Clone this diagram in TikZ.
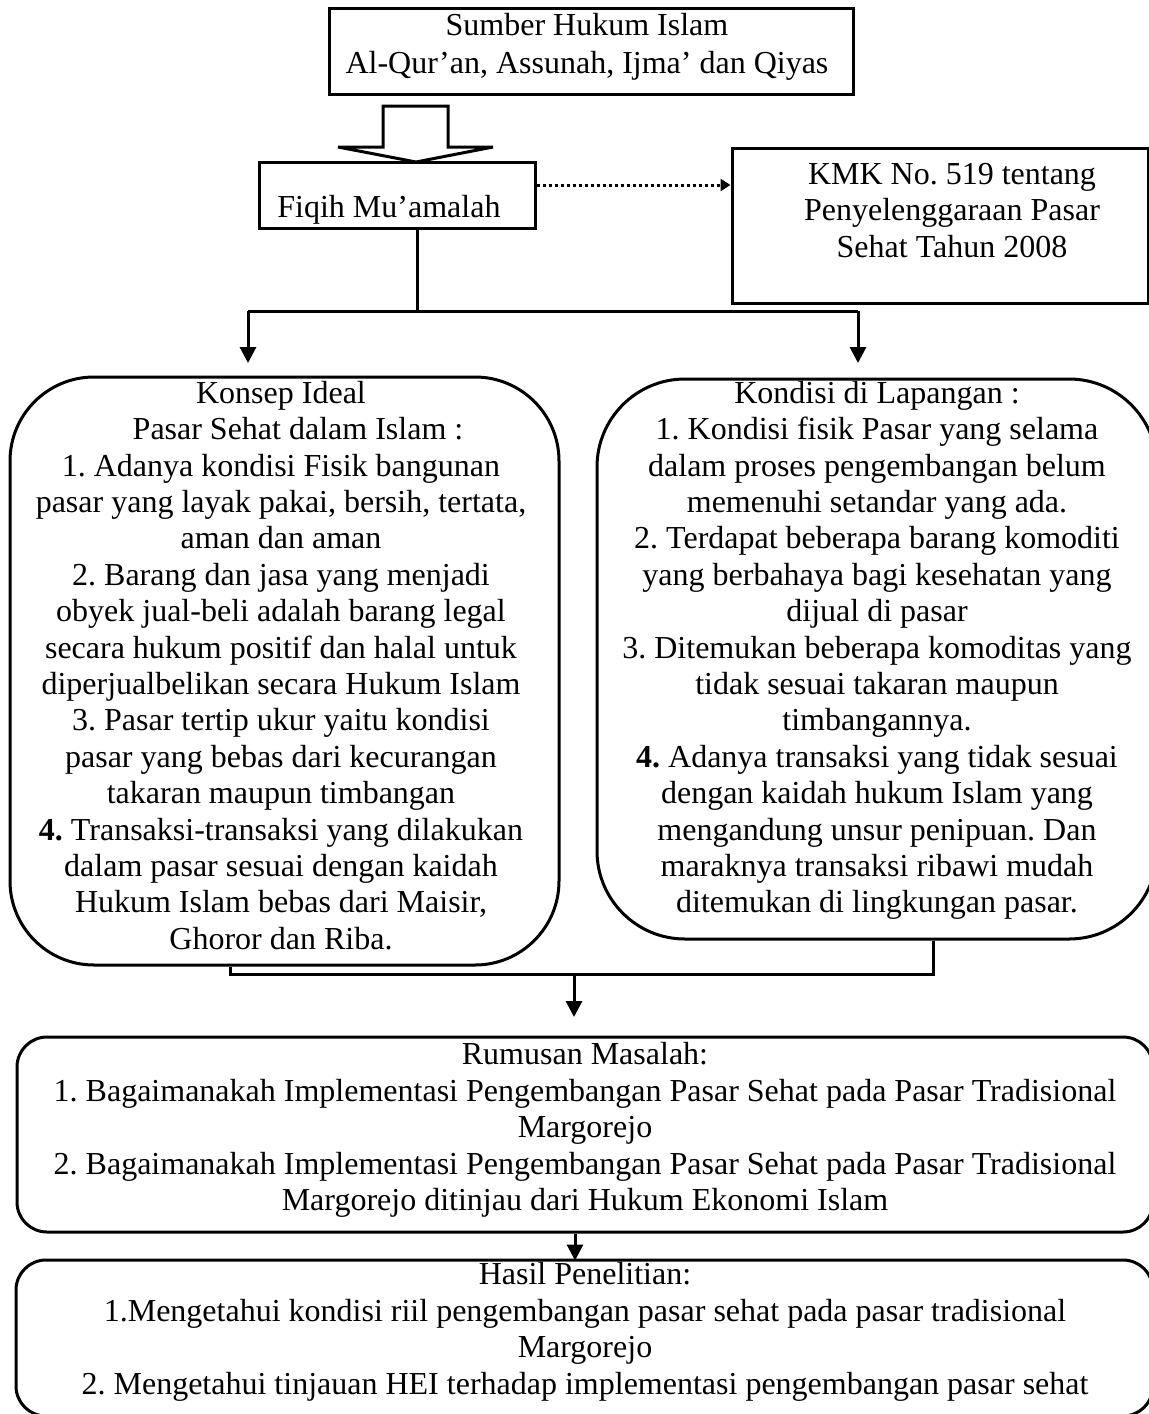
\documentclass[tikz,border=0pt]{standalone}
\usepackage{fontspec}
\setmainfont{Liberation Serif}
\usetikzlibrary{arrows.meta,calc}
\frenchspacing
\begin{document}
\begin{tikzpicture}[x=0.5pt,y=-0.5pt]
\tikzset{
  boxst/.style={draw, line width=1.5pt, inner sep=0pt},
  txt/.style={font=\fontsize{16pt}{18.2pt}\selectfont, align=center, inner sep=0pt, anchor=north},
  ln/.style={line width=1.5pt},
  arr/.style={line width=1.5pt, -{Triangle[width=8pt,length=8pt]}},
  dotarr/.style={line width=1.5pt, dash pattern=on 1.5pt off 1.5pt, -{Triangle[width=6pt,length=5pt]}},
}
\useasboundingbox (0,0) rectangle (1149,1414);

% boxes
\node[boxst, minimum width=262pt, minimum height=43pt] (top) at (591,51) {};
\node[boxst, minimum width=138pt, minimum height=33pt] (fiqih) at (397,195) {};
\node[boxst, minimum width=208pt, minimum height=77.5pt] (kmk) at (940,225.5) {};
\node[boxst, rounded corners=42pt, minimum width=274.5pt, minimum height=294pt] (ideal) at (284.5,671) {};
\node[boxst, rounded corners=44pt, minimum width=280pt, minimum height=280pt] (kond) at (877,659) {};
\node[boxst, rounded corners=15pt, minimum width=568pt, minimum height=97.5pt] (rum) at (585,1134.5) {};
\node[boxst, rounded corners=15pt, minimum width=568.5pt, minimum height=78pt] (hasil) at (584.5,1338) {};

% block arrow
\draw[ln, fill=white] (383,106) -- (448,106) -- (448,147) -- (493,147) -- (416,162) -- (338,147) -- (383,147) -- cycle;

% dotted arrow
\draw[dotarr] ($(fiqih.east)+(0,-10)$) -- ($(kmk.west |- fiqih.east)+(0,-10)$);

% split
\coordinate (sp) at (417,311);
\coordinate (jl) at (248,311);
\coordinate (jr) at (858,311);
\coordinate (tl) at (248,363);
\coordinate (tr) at (858,363);
\draw[ln] (fiqih.south -| sp) -- (sp);
\draw[ln] (jl) -- (jr);
\draw[arr] (jl) -- (tl);
\draw[arr] (jr) -- (tr);

% merge
\coordinate (ml) at (230,974);
\coordinate (mr) at (933,974);
\coordinate (mm) at (574,974);
\coordinate (mt) at (574,1017);
\draw[ln] (ideal.south -| ml) -- (ml) -- (mr) -- (kond.south -| mr);
\draw[arr] (mm) -- (mt);
\coordinate (rh) at (575,1232);
\draw[arr] (rum.south -| rh) -- ($(hasil.north -| rh)+(0,2)$);

% texts
\node[txt, font=\fontsize{16pt}{19pt}\selectfont] (ttop) at (587,8.4) {\strut Sumber Hukum Islam\\Al-Qur’an, Assunah, Ijma’ dan Qiyas};
\node[inner sep=0pt, anchor=base west, font=\fontsize{16pt}{18.2pt}\selectfont] (tfiq) at (277,217) {Fiqih Mu’amalah};
\node[txt] (tkmk) at (952,158.5) {\strut KMK No. 519 tentang\\Penyelenggaraan Pasar\\Sehat Tahun 2008};
\node[txt] (tideal) at (281,377.5) {\strut Konsep Ideal\\
\hspace*{17pt}Pasar Sehat dalam Islam :\\
1. Adanya kondisi Fisik bangunan\\
pasar yang layak pakai, bersih, tertata,\\
aman dan aman\\
2. Barang dan jasa yang menjadi\\
obyek jual-beli adalah barang legal\\
secara hukum positif dan halal untuk\\
diperjualbelikan secara Hukum Islam\\
3. Pasar tertip ukur yaitu kondisi\\
pasar yang bebas dari kecurangan\\
takaran maupun timbangan\\
\textbf{4.} Transaksi-transaksi yang dilakukan\\
dalam pasar sesuai dengan kaidah\\
Hukum Islam bebas dari Maisir,\\
Ghoror dan Riba.};
\node[txt] (tkond) at (877,377.5) {\strut Kondisi di Lapangan :\\
1. Kondisi fisik Pasar yang selama\\
dalam proses pengembangan belum\\
memenuhi setandar yang ada.\\
2. Terdapat beberapa barang komoditi\\
yang berbahaya bagi kesehatan yang\\
dijual di pasar\\
3. Ditemukan beberapa komoditas yang\\
tidak sesuai takaran maupun\\
timbangannya.\\
\textbf{4.} Adanya transaksi yang tidak sesuai\\
dengan kaidah hukum Islam yang\\
mengandung unsur penipuan. Dan\\
maraknya transaksi ribawi mudah\\
ditemukan di lingkungan pasar.};
\node[txt] (trum) at (585,1039) {\strut Rumusan Masalah:\\
1. Bagaimanakah Implementasi Pengembangan Pasar Sehat pada Pasar Tradisional\\
Margorejo\\
2. Bagaimanakah Implementasi Pengembangan Pasar Sehat pada Pasar Tradisional\\
Margorejo ditinjau dari Hukum Ekonomi Islam};
\node[txt] (thasil) at (585,1259) {\strut Hasil Penelitian:\\
1.Mengetahui kondisi riil pengembangan pasar sehat pada pasar tradisional\\
Margorejo\\
2. Mengetahui tinjauan HEI terhadap implementasi pengembangan pasar sehat};
\end{tikzpicture}
\end{document}
